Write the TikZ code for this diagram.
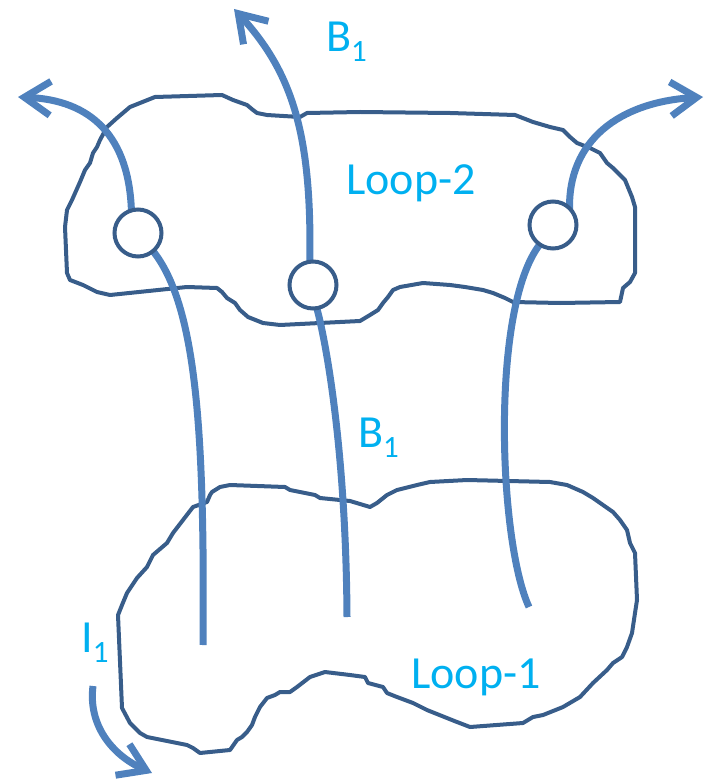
\documentclass[tikz,border=0pt]{standalone}
\usepackage{fontspec}
\setmainfont{Carlito}
\usetikzlibrary{arrows.meta}
\definecolor{loopblue}{HTML}{385D8A}
\definecolor{fieldblue}{HTML}{4F81BD}
\definecolor{labelcyan}{HTML}{00B0F0}
\pgfdeclarelayer{loops}
\pgfdeclarelayer{field}
\pgfsetlayers{loops,field,main}
\newcommand\subone{\raisebox{-10pt}{\fontsize{31}{31}\selectfont 1}}
\begin{document}
\begin{tikzpicture}[x=1pt,y=-1pt,
  loopline/.style={draw=loopblue,line width=4pt,line join=round},
  fieldline/.style={draw=fieldblue,line width=7pt},
  fluxarrow/.style={fieldline,-{Straight Barb[length=26pt,width=34pt]}},
  ring/.style={circle,draw=loopblue,line width=4pt,fill=white,minimum size=47pt,inner sep=0pt},
  lbl/.style={text=labelcyan,font=\fontsize{46}{46}\selectfont,inner sep=0pt,anchor=base west}]
\useasboundingbox (0,0) rectangle (709,783);

% crossing rings on the upper loop
\node[ring] (cL) at (138,233) {};
\node[ring] (cM) at (313,285) {};
\node[ring] (cR) at (553,225) {};

% free ends of the flux lines
\coordinate (tipL) at (18,97);
\coordinate (tipM) at (234,9);
\coordinate (tipR) at (703,97);
\coordinate (footL) at (203,645);
\coordinate (footM) at (347,617);
\coordinate (footR) at (529,607);
\coordinate (iStart) at (93,686);
\coordinate (iTip) at (152,773);

% hand-drawn current loops
\begin{pgfonlayer}{loops}
\draw[loopline] plot coordinates {
 (155,97) (222,95) (233,100) (247,105) (253,110) (257,113) (267,115) (300,117)
 (307,113) (360,112) (450,113) (515,115) (533,122) (550,127) (563,130) (570,137)
 (577,143) (590,148) (600,153) (607,163) (613,168) (618,173) (625,180) (632,197)
 (635,207) (635,273) (630,282) (623,288) (620,302) (560,303) (513,302) (505,298)
 (493,293) (483,290) (465,287) (450,285) (423,283) (400,287) (393,290) (388,297)
 (383,303) (378,310) (370,315) (360,321) (280,325) (263,323) (248,317) (240,310)
 (235,303) (227,298) (222,292) (217,288) (187,287) (110,295) (97,292) (83,285)
 (70,280) (67,273) (65,227) (67,210) (72,200) (80,182) (85,170) (90,163)
 (93,153) (97,147) (100,140) (107,127) (117,118) (130,107)} -- cycle;
\draw[loopline] plot coordinates {
 (230,485) (285,487) (290,490) (315,495) (320,498) (350,501) (370,507) (377,503)
 (387,495) (397,490) (417,485) (430,482) (467,480) (550,482) (567,485) (583,492)
 (593,498) (603,505) (613,512) (620,520) (627,530) (630,543) (635,553) (637,600)
 (635,613) (632,633) (627,647) (622,657) (613,663) (607,670) (593,683) (580,697)
 (563,707) (543,715) (533,717) (523,723) (470,727) (457,722) (427,710) (413,703)
 (397,697) (387,693) (383,687) (368,683) (365,677) (350,675) (325,672) (310,677)
 (297,687) (290,692) (280,692) (275,695) (267,698) (260,707) (255,717) (252,725)
 (247,732) (242,737) (237,740) (230,750) (200,753) (193,748) (187,745) (147,737)
 (140,733) (130,723) (122,708) (118,615) (122,605) (127,593) (137,578) (147,567)
 (153,555) (167,543) (173,533) (193,507) (207,502) (210,495) (212,492) (220,487)} -- cycle;
\end{pgfonlayer}

% magnetic flux lines
\begin{pgfonlayer}{field}
\draw[fieldline,shorten >=-6pt] (footL) .. controls (205,420) and (195,300) .. (cL.-50);
\draw[fieldline,shorten >=-6pt] (footM) .. controls (346,450) and (326,340) .. (cM.-80);
\draw[fieldline,shorten >=-6pt] (footR) .. controls (498,540) and (490,300) .. (cR.-125);
\draw[fluxarrow,shorten <=-6pt] (cL.105) .. controls (130,135) and (90,100) .. (tipL);
\draw[fluxarrow,shorten <=-6pt] (cM.97) .. controls (312,140) and (295,75) .. (tipM);
\draw[fluxarrow,shorten <=-6pt] (cR.50) .. controls (567,140) and (620,102) .. (tipR);
\draw[fluxarrow] (iStart) .. controls (88,725) and (112,755) .. (iTip);
\end{pgfonlayer}

% labels
\node[lbl] (bTop) at (326,52) {B\subone};
\node[lbl] (bMid) at (358,447) {B\subone};
\node[lbl] (iLbl) at (81,652) {I\subone};
\node[lbl] (loopTwo) at (346,195) {Loop-2};
\node[lbl] (loopOne) at (411,688) {Loop-1};
\end{tikzpicture}
\end{document}
